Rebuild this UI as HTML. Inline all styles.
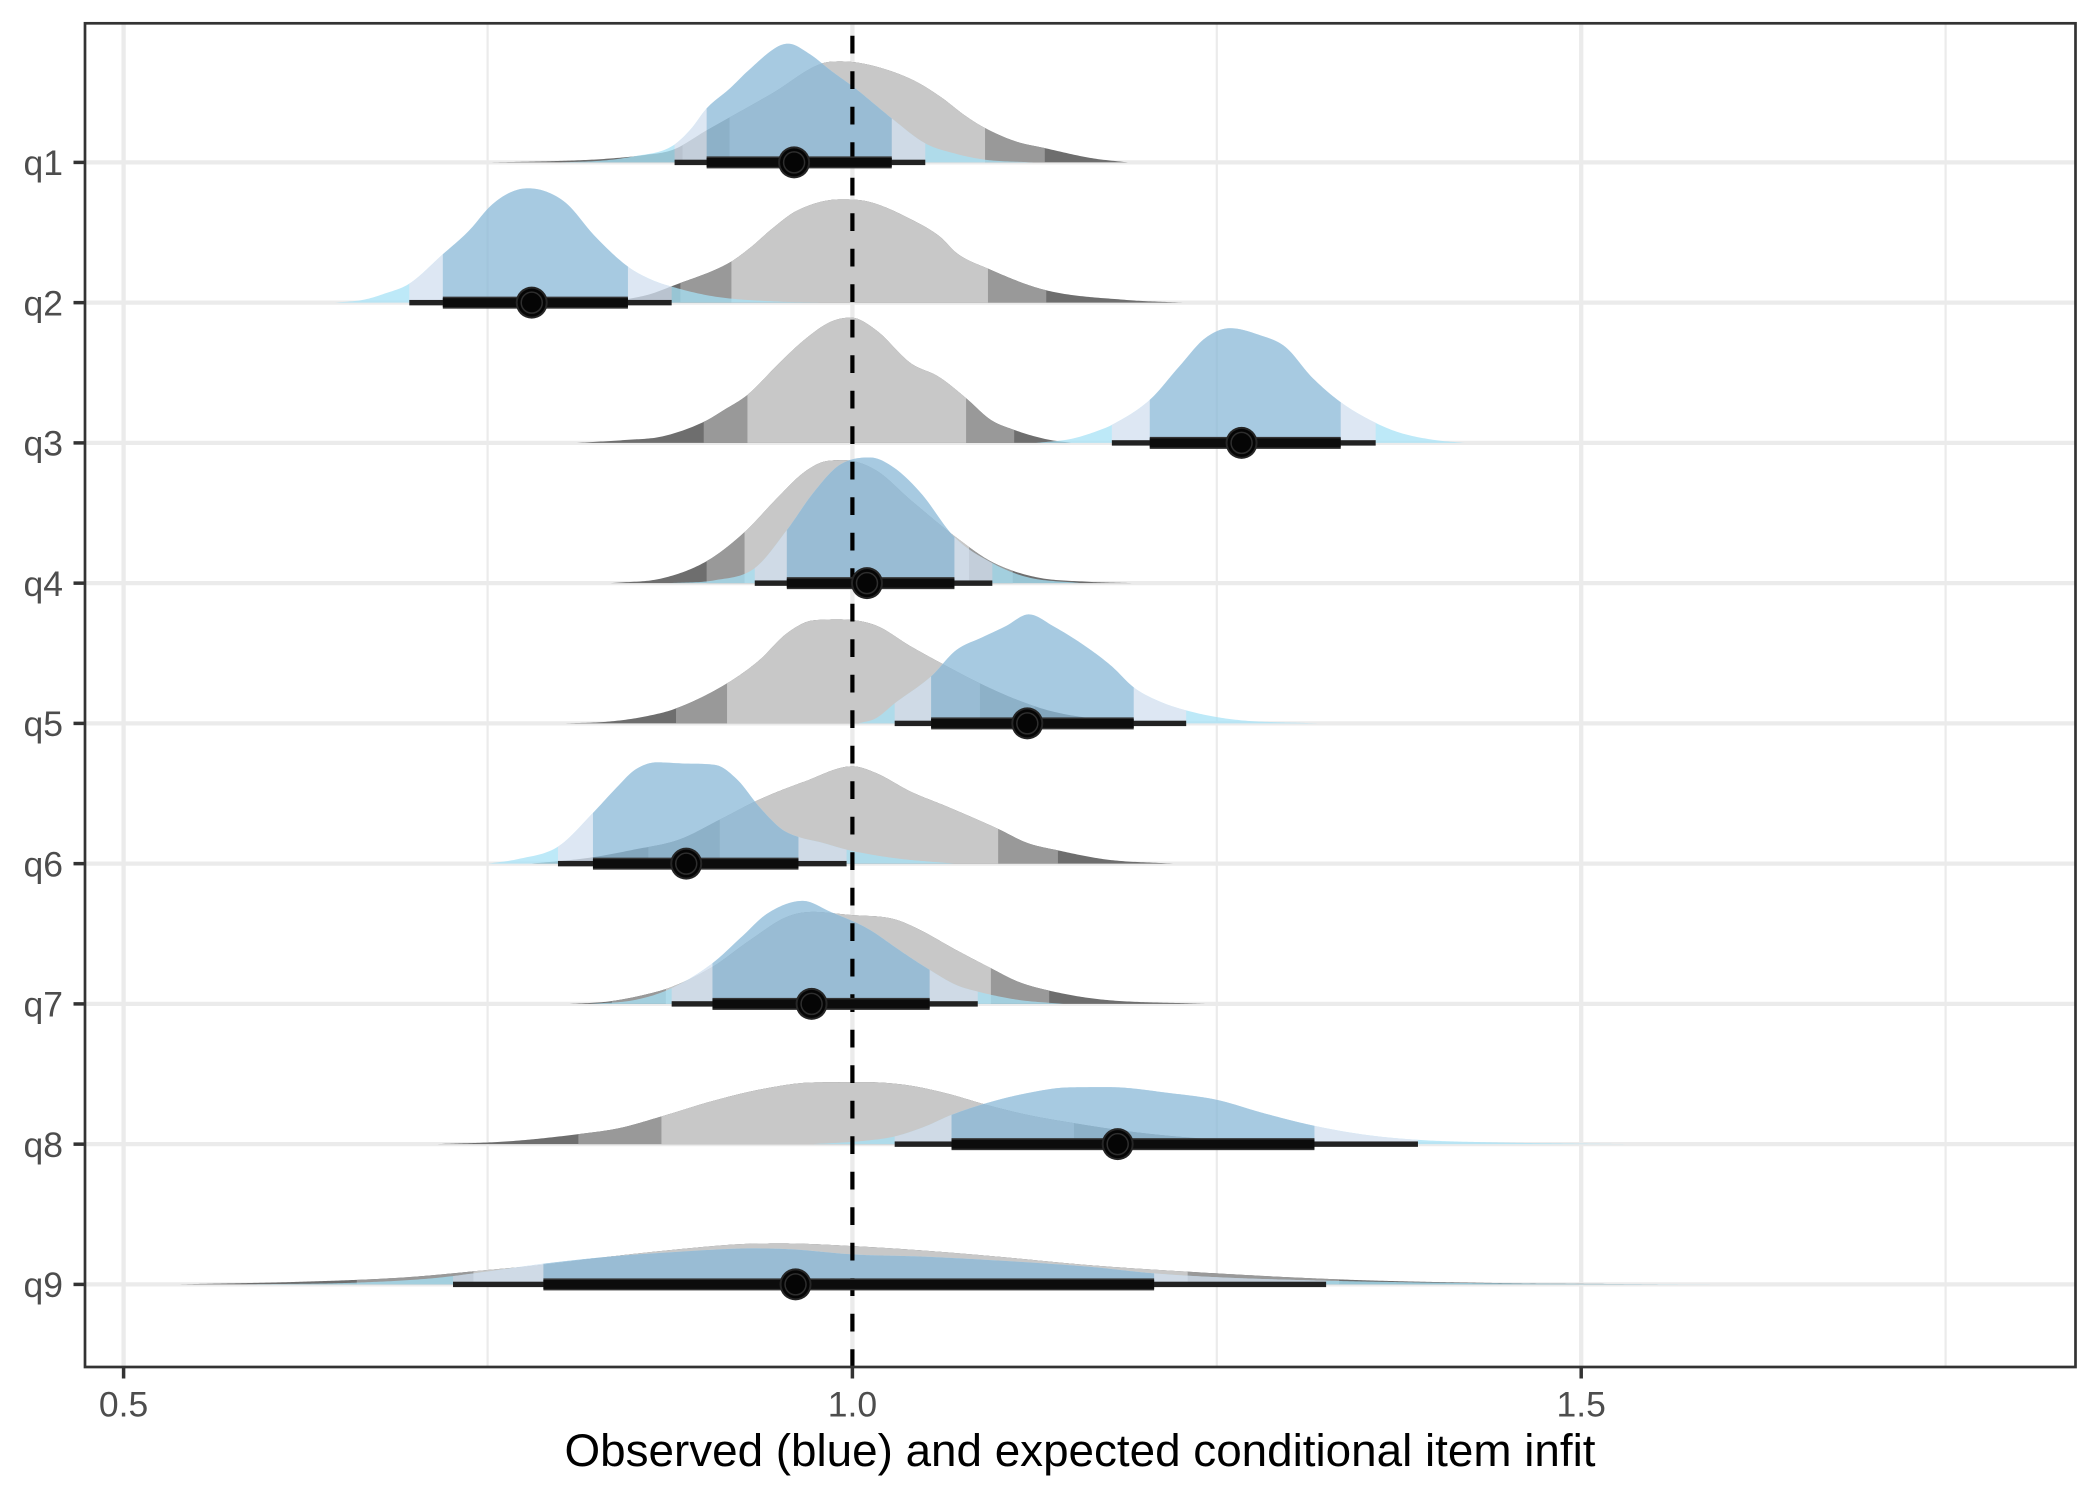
<!DOCTYPE html>
<html>
<head>
<meta charset="utf-8">
<style>
html,body{margin:0;padding:0;background:#ffffff;}
svg{display:block;}
text{font-family:"Liberation Sans",Arial,sans-serif;}
</style>
</head>
<body>
<svg id="chart" xmlns="http://www.w3.org/2000/svg" width="2100" height="1500" viewBox="0 0 2100 1500">
  <rect x="0" y="0" width="2100" height="1500" fill="#ffffff"/>
  <rect x="85" y="23.3" width="1990.5" height="1343.7" fill="#ffffff"/>
  <!-- minor grid -->
  <g stroke="#ebebeb" stroke-width="2.2">
    <line x1="487.6" y1="23.3" x2="487.6" y2="1367"/>
    <line x1="1216.8" y1="23.3" x2="1216.8" y2="1367"/>
    <line x1="1945.6" y1="23.3" x2="1945.6" y2="1367"/>
  </g>
  <!-- major grid -->
  <g stroke="#ebebeb" stroke-width="4.3">
    <line x1="123.6" y1="23.3" x2="123.6" y2="1367"/>
    <line x1="852.4" y1="23.3" x2="852.4" y2="1367"/>
    <line x1="1581.2" y1="23.3" x2="1581.2" y2="1367"/>
    <line x1="85" y1="162.4" x2="2075.5" y2="162.4"/>
    <line x1="85" y1="302.65" x2="2075.5" y2="302.65"/>
    <line x1="85" y1="442.9" x2="2075.5" y2="442.9"/>
    <line x1="85" y1="583.15" x2="2075.5" y2="583.15"/>
    <line x1="85" y1="723.4" x2="2075.5" y2="723.4"/>
    <line x1="85" y1="863.65" x2="2075.5" y2="863.65"/>
    <line x1="85" y1="1003.9" x2="2075.5" y2="1003.9"/>
    <line x1="85" y1="1144.15" x2="2075.5" y2="1144.15"/>
    <line x1="85" y1="1284.4" x2="2075.5" y2="1284.4"/>
  </g>
  <g id="gray"></g>
  <g id="blue" opacity="0.75"></g>
  <path d="M852.4,1367 V23.3" stroke="#000000" stroke-width="4.2" stroke-dasharray="17.75 17.75" fill="none"/>
  <g id="intervals"></g>
  <!-- panel border -->
  <rect x="85" y="23.3" width="1990.5" height="1343.7" fill="none" stroke="#333333" stroke-width="2.7"/>
  <!-- ticks -->
  <g stroke="#333333" stroke-width="3.5">
    <line x1="73.5" y1="162.4" x2="85" y2="162.4"/>
    <line x1="73.5" y1="302.65" x2="85" y2="302.65"/>
    <line x1="73.5" y1="442.9" x2="85" y2="442.9"/>
    <line x1="73.5" y1="583.15" x2="85" y2="583.15"/>
    <line x1="73.5" y1="723.4" x2="85" y2="723.4"/>
    <line x1="73.5" y1="863.65" x2="85" y2="863.65"/>
    <line x1="73.5" y1="1003.9" x2="85" y2="1003.9"/>
    <line x1="73.5" y1="1144.15" x2="85" y2="1144.15"/>
    <line x1="73.5" y1="1284.4" x2="85" y2="1284.4"/>
    <line x1="123.6" y1="1367" x2="123.6" y2="1378.5"/>
    <line x1="852.4" y1="1367" x2="852.4" y2="1378.5"/>
    <line x1="1581.2" y1="1367" x2="1581.2" y2="1378.5"/>
  </g>
  <!-- y labels -->
  <g font-size="35.5" fill="#4d4d4d" text-anchor="end">
    <text x="63" y="175.2">q1</text>
    <text x="63" y="315.45">q2</text>
    <text x="63" y="455.7">q3</text>
    <text x="63" y="595.95">q4</text>
    <text x="63" y="736.2">q5</text>
    <text x="63" y="876.45">q6</text>
    <text x="63" y="1016.7">q7</text>
    <text x="63" y="1156.95">q8</text>
    <text x="63" y="1297.2">q9</text>
  </g>
  <!-- x labels -->
  <g font-size="35.5" fill="#4d4d4d" text-anchor="middle">
    <text x="123.6" y="1416.5">0.5</text>
    <text x="852.4" y="1416.5">1.0</text>
    <text x="1581.2" y="1416.5">1.5</text>
  </g>
  <text x="1080" y="1466" font-size="45.8" fill="#000000" text-anchor="middle">Observed (blue) and expected conditional item infit</text>
</svg>
<script>
(function(){
  var NS = 'http://www.w3.org/2000/svg';
  function X(v){ return 852.4 + (v-1)*1457.6; }
  function rowY(i){ return 162.4 + i*140.25; }
  function spline(pts){
    var xs = pts.map(function(p){return p[0];}), ys = pts.map(function(p){return p[1];});
    var n = xs.length, d = [], m = new Array(n), i;
    for(i=0;i<n-1;i++) d.push((ys[i+1]-ys[i])/(xs[i+1]-xs[i]));
    m[0]=d[0]; m[n-1]=d[n-2];
    for(i=1;i<n-1;i++){ if(d[i-1]*d[i]<=0) m[i]=0; else m[i]=(d[i-1]+d[i])/2; }
    for(i=0;i<n-1;i++){
      if(d[i]===0){ m[i]=0; m[i+1]=0; continue; }
      var a=m[i]/d[i], b=m[i+1]/d[i], s=a*a+b*b;
      if(s>9){ var t=3/Math.sqrt(s); m[i]=t*a*d[i]; m[i+1]=t*b*d[i]; }
    }
    return function(x){
      if(x<=xs[0]) return ys[0];
      if(x>=xs[n-1]) return ys[n-1];
      var k=0; while(x>xs[k+1]) k++;
      var h=xs[k+1]-xs[k], t=(x-xs[k])/h, t2=t*t, t3=t2*t;
      return (2*t3-3*t2+1)*ys[k]+(t3-2*t2+t)*h*m[k]+(-2*t3+3*t2)*ys[k+1]+(t3-t2)*h*m[k+1];
    };
  }
  function region(f, base, a, b){
    var xa=X(a), xb=X(b);
    var d='M'+xa.toFixed(2)+','+base.toFixed(2)+' ';
    var n=Math.max(2, Math.ceil((xb-xa)/2));
    for(var k=0;k<=n;k++){
      var v=a+(b-a)*k/n;
      d+='L'+X(v).toFixed(2)+','+(base-Math.max(0,f(v))).toFixed(2)+' ';
    }
    d+='L'+xb.toFixed(2)+','+base.toFixed(2)+' Z';
    return d;
  }
  function addPath(parent, d, fill){
    var p=document.createElementNS(NS,'path');
    p.setAttribute('d', d); p.setAttribute('fill', fill);
    parent.appendChild(p);
  }
  function addRect(parent, x, y, w, h, fill){
    var r=document.createElementNS(NS,'rect');
    r.setAttribute('x',x); r.setAttribute('y',y); r.setAttribute('width',w); r.setAttribute('height',h);
    r.setAttribute('fill',fill); parent.appendChild(r);
  }
  function addCircle(parent, cx, cy, r, fill, stroke, sw){
    var c=document.createElementNS(NS,'circle');
    c.setAttribute('cx',cx); c.setAttribute('cy',cy); c.setAttribute('r',r);
    c.setAttribute('fill',fill);
    if(stroke){ c.setAttribute('stroke',stroke); c.setAttribute('stroke-width',sw); }
    parent.appendChild(c);
  }

  var rows = [
    { // q1
      g:[[0.75,0],[0.80,1.5],[0.83,3.5],[0.858,7.5],[0.877,12.7],[0.9,32],[0.945,69],[0.98,99.3],[0.992,101],[1.011,97.7],[1.041,82.7],[1.06,66],[1.078,46],[1.091,34.3],[1.112,21],[1.132,14.3],[1.164,4.3],[1.189,0]],
      gb:[0.8835,0.9157,1.091,1.132],
      b:[[0.80,0],[0.83,2],[0.85,6],[0.876,16],[0.889,33],[0.900,54],[0.916,74],[0.928,91],[0.949,116],[0.956,118.7],[0.97,109],[0.986,91],[1.002,74],[1.017,56],[1.027,44],[1.05,19],[1.07,9],[1.091,2.7],[1.124,0]],
      thin:[0.878,1.05], thick:[0.900,1.027], dot:0.960
    },
    { // q2
      g:[[0.83,0],[0.86,8],[0.877,17],[0.9157,40],[0.93,55],[0.945,74],[0.962,92],[0.992,103.3],[1.011,101],[1.041,82.7],[1.06,66],[1.072,49],[1.093,34],[1.132,12.7],[1.188,2.7],[1.2265,0]],
      gb:[0.882,0.917,1.093,1.133],
      b:[[0.645,0],[0.665,3],[0.679,9],[0.696,19],[0.7185,47.7],[0.737,72],[0.752,97],[0.765,110],[0.777,114.3],[0.79,111],[0.804,99],[0.823,67],[0.846,36],[0.862,23],[0.876,16],[0.906,6],[0.95,1],[0.98,0]],
      thin:[0.696,0.876], thick:[0.719,0.846], dot:0.780
    },
    { // q3
      g:[[0.811,0],[0.845,3],[0.869,6.3],[0.898,21],[0.912,33],[0.928,48],[0.95,80],[0.967,103],[0.985,121],[0.999,125.3],[1.016,113],[1.040,79.7],[1.059,66.3],[1.078,44.7],[1.095,23],[1.111,13],[1.132,4],[1.15,0]],
      gb:[0.898,0.928,1.078,1.111],
      b:[[1.126,0],[1.15,4],[1.17,13],[1.178,18],[1.204,43],[1.224,76],[1.242,104.7],[1.259,114.7],[1.279,108],[1.297,96],[1.315,66],[1.335,40.7],[1.359,20],[1.376,10],[1.399,3],[1.42,0]],
      thin:[1.178,1.359], thick:[1.204,1.335], dot:1.267
    },
    { // q4
      g:[[0.834,0],[0.869,4.7],[0.900,22],[0.926,51],[0.949,86],[0.967,111],[0.982,122],[0.994,123],[1.016,113],[1.04,83],[1.071,46],[1.096,21],[1.126,6],[1.16,1.5],[1.193,0]],
      gb:[0.900,0.926,1.08,1.11],
      b:[[0.875,0],[0.906,3],[0.933,15],[0.955,53],[0.973,90],[0.991,118],[1.012,125.7],[1.028,116],[1.047,90],[1.070,46],[1.096,20],[1.12,6],[1.157,0]],
      thin:[0.933,1.096], thick:[0.955,1.070], dot:1.010
    },
    { // q5
      g:[[0.802,0],[0.832,1.7],[0.857,6.7],[0.879,15],[0.914,40],[0.936,63],[0.955,90],[0.973,103],[0.991,104],[1.016,98],[1.04,77],[1.065,57],[1.0875,40],[1.114,23],[1.138,11.7],[1.175,3.3],[1.22,0]],
      gb:[0.879,0.914,1.0875,1.125],
      b:[[1.004,0],[1.016,5],[1.029,20],[1.054,47],[1.071,73],[1.089,86],[1.105,97],[1.121,109],[1.138,97],[1.16,77],[1.178,57],[1.193,36],[1.209,23],[1.229,13],[1.261,4],[1.319,0]],
      thin:[1.029,1.229], thick:[1.054,1.193], dot:1.120
    },
    { // q6
      g:[[0.78,0],[0.82,6],[0.85,14],[0.881,24],[0.909,44],[0.936,64],[0.967,82],[1.0,97.3],[1.016,90.7],[1.04,72],[1.065,57],[1.1,34.7],[1.12,20.7],[1.141,13.3],[1.175,4],[1.22,0]],
      gb:[0.86,0.909,1.1,1.141],
      b:[[0.750,0],[0.771,4.7],[0.798,17],[0.822,50.7],[0.838,75.7],[0.851,94],[0.866,101.3],[0.887,100],[0.906,98.7],[0.921,84],[0.936,57],[0.952,34],[0.963,26.7],[0.979,21],[0.996,14],[1.028,5.7],[1.07,0]],
      thin:[0.798,0.996], thick:[0.822,0.963], dot:0.886
    },
    { // q7
      g:[[0.806,0],[0.832,2.3],[0.857,9],[0.876,17],[0.904,37],[0.93,64],[0.955,87],[0.973,92],[0.998,89],[1.028,85],[1.044,75.7],[1.071,54],[1.095,35.7],[1.114,22],[1.135,13.3],[1.169,4.7],[1.242,0]],
      gb:[0.835,0.872,1.095,1.135],
      b:[[0.82,0],[0.851,4],[0.876,15.7],[0.904,40.7],[0.924,67],[0.942,90.7],[0.966,103],[0.985,92],[1.01,75.7],[1.034,52],[1.053,34],[1.071,19],[1.086,12.3],[1.114,4],[1.145,0]],
      thin:[0.876,1.086], thick:[0.904,1.053], dot:0.972
    },
    { // q8
      g:[[0.714,0],[0.763,2.7],[0.812,10],[0.84,16],[0.869,27.7],[0.903,42.7],[0.938,55],[0.973,61.7],[1.008,62],[1.036,59.3],[1.064,51],[1.092,39.3],[1.12,29.3],[1.152,21],[1.19,12.7],[1.23,6.7],[1.289,1.7],[1.33,0]],
      gb:[0.812,0.869,1.152,1.23],
      b:[[0.973,0],[1.008,3.3],[1.029,7.7],[1.05,17.7],[1.068,29.3],[1.092,41],[1.12,51],[1.148,56.7],[1.176,57],[1.218,51],[1.25,44.3],[1.282,31],[1.317,18.3],[1.352,9.3],[1.388,4.3],[1.443,1.7],[1.534,0]],
      thin:[1.029,1.388], thick:[1.068,1.317], dot:1.182
    },
    { // q9
      g:[[0.536,0],[0.623,2.7],[0.693,7],[0.749,14.3],[0.786,19.3],[0.833,27.7],[0.882,35.3],[0.924,40.3],[0.952,41],[1.0,38.3],[1.05,33.7],[1.1,27.7],[1.162,19.3],[1.23,12.7],[1.334,5],[1.428,1.7],[1.56,0]],
      gb:[0.66,0.74,1.23,1.334],
      b:[[0.58,0],[0.658,1.7],[0.711,6],[0.749,12.7],[0.786,20.3],[0.833,27.7],[0.882,32.7],[0.931,36],[0.959,35],[1.0,30],[1.05,27.7],[1.113,22.7],[1.162,17.7],[1.207,11],[1.253,7],[1.325,3.7],[1.428,1.3],[1.60,0]],
      thin:[0.726,1.325], thick:[0.788,1.207], dot:0.961
    }
  ];

  var gG=document.getElementById('gray'), gB=document.getElementById('blue'), gI=document.getElementById('intervals');
  rows.forEach(function(r, i){
    var base=rowY(i);
    var fg=spline(r.g), gs=r.g[0][0], ge=r.g[r.g.length-1][0];
    addPath(gG, region(fg, base, gs, ge), '#6e6e6e');
    addPath(gG, region(fg, base, Math.max(gs,r.gb[0]), Math.min(ge,r.gb[3])), '#999999');
    addPath(gG, region(fg, base, Math.max(gs,r.gb[1]), Math.min(ge,r.gb[2])), '#c8c8c8');
    var fb=spline(r.b), bs=r.b[0][0], be=r.b[r.b.length-1][0];
    addPath(gB, region(fb, base, bs, be), '#a7e2f6');
    addPath(gB, region(fb, base, Math.max(bs,r.thin[0]), Math.min(be,r.thin[1])), '#d2e0f0');
    addPath(gB, region(fb, base, r.thick[0], r.thick[1]), '#8ab9d8');
    var x0=X(r.thin[0]), x1=X(r.thin[1]);
    addRect(gI, x0, base-2.7, x1-x0, 5.4, '#222222');
    var t0=X(r.thick[0]), t1=X(r.thick[1]);
    addRect(gI, t0, base-6, t1-t0, 12, '#333333');
    addRect(gI, t0, base-4.5, t1-t0, 9, '#0c0c0c');
    var cx=X(r.dot);
    addCircle(gI, cx, base, 16, '#262626');
    addCircle(gI, cx, base, 14, '#050505');
    addCircle(gI, cx, base, 10.5, 'none', '#2e2e2e', 1.5);
  });
})();
</script>
</body>
</html>
